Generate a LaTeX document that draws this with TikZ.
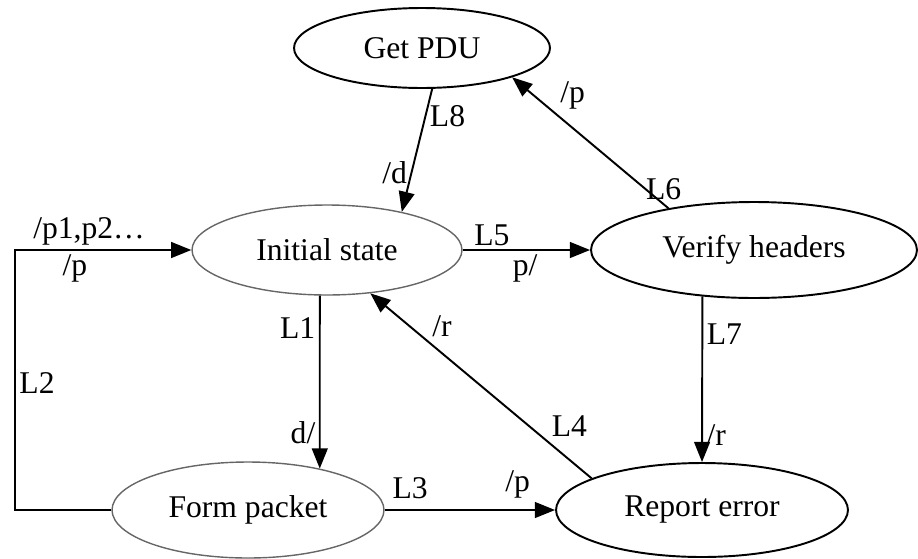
\documentclass[tikz,border=0pt]{standalone}
\usepackage{fontspec}
\setmainfont{Liberation Serif}
\usetikzlibrary{shapes.geometric,arrows.meta}
\begin{document}
\begin{tikzpicture}[x=0.02cm,y=-0.02cm,
    arr/.style={line width=1.1pt,-{Triangle[length=11.5pt,width=9pt]}}]
      \useasboundingbox (0,0) rectangle (918,558);

      \begin{scope}[every node/.style={ellipse,draw,line width=1.1pt,inner sep=0pt,font=\fontsize{18}{21}\selectfont}]
        \node[minimum width=5.12cm,minimum height=1.6cm] (getpdu) at (422,48) {Get PDU};
        \node[draw=black!60,line width=0.8pt,minimum width=5.4cm,minimum height=1.8cm] (init) at (327,250) {Initial state};
        \node[minimum width=6.52cm,minimum height=1.92cm] (verify) at (754,250) {Verify headers};
        \node[draw=black!60,line width=0.8pt,minimum width=5.44cm,minimum height=1.92cm] (formp) at (248,510) {Form packet};
        \node[minimum width=5.84cm,minimum height=1.88cm] (report) at (702,510) {Report error};
      \end{scope}

      \coordinate (l2) at (15,250);

      \begin{scope}[every node/.style={font=\fontsize{18}{21}\selectfont,inner sep=2pt}]

        \begin{scope}[every edge/.style={draw,arr}]
          \path (getpdu.-76) edge node[pos=0.22,anchor=west] {L8} node[pos=0.68,anchor=east] {/d} (init.27);
          \path (verify.154) edge node[pos=0.03,anchor=south] {L6} node[pos=0.72,anchor=south west] {/p} (getpdu.-18);
          \path (init) edge node[pos=0.23,above] {L5} node[pos=0.49,below] {p/} (verify);
          \path (init.-99) edge node[pos=0.19,left] {L1} node[pos=0.79,left] {d/} (formp.30);
          \path (formp) edge node[pos=0.15,above,yshift=4pt] {L3} node[pos=0.78,above,yshift=4pt] {/p} (report);
          \path (report.164) edge node[pos=0.2,anchor=south west] {L4} node[pos=0.74,anchor=south west] {/r} (init.-45);
          \path (verify.-138) edge node[pos=0.23,right] {L7} node[pos=0.84,right] {/r} (report.90);
        \end{scope}

        \draw[arr] (formp.west) -| (l2) node[pos=0.744,right] {L2}
          -- node[pos=0.42,above] {/p1,p2…} node[pos=0.34,below] {/p} (init.west);
      \end{scope}

    \end{tikzpicture}
\end{document}
